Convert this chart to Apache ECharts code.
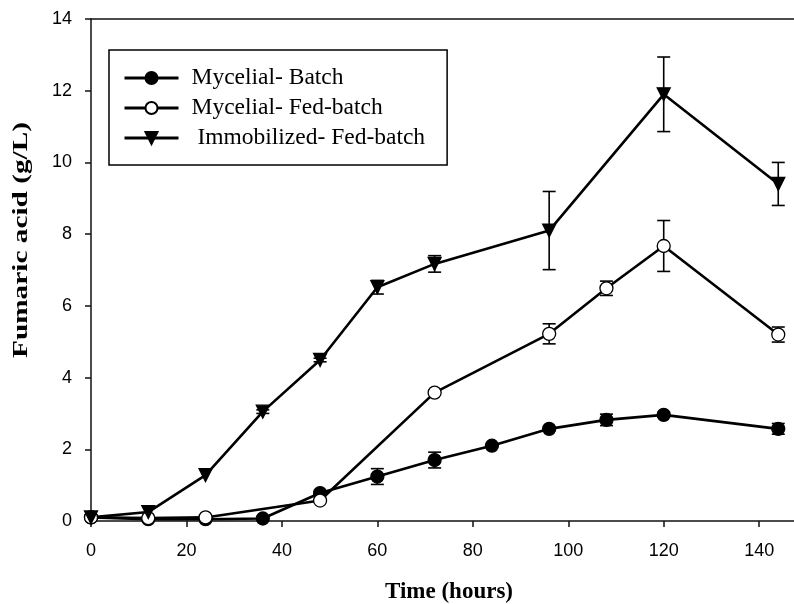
<!DOCTYPE html>
<html>
<head>
<meta charset="utf-8">
<script src="https://cdn.jsdelivr.net/npm/echarts@6/dist/echarts.min.js"></script>
<style>
  html, body { margin: 0; padding: 0; background: #fff; }
  #chart { width: 794px; height: 604px; }
</style>
</head>
<body>
<div id="chart"></div>
<script>
// Fumaric acid production over time for three cultivation modes
const batchHours = [0, 12, 24, 36, 48, 60, 72, 84, 96, 108, 120, 144];
const batchAcid  = [0.1, 0.05, 0.05, 0.07, 0.78, 1.24, 1.7, 2.1, 2.57, 2.82, 2.96, 2.57];
const batchSD    = [0, 0, 0, 0, 0.05, 0.22, 0.22, 0, 0.05, 0.16, 0.07, 0.15];

const fedHours = [0, 12, 24, 48, 72, 96, 108, 120, 144];
const fedAcid  = [0.1, 0.08, 0.1, 0.57, 3.58, 5.22, 6.49, 7.67, 5.2];
const fedSD    = [0, 0, 0, 0, 0, 0.28, 0.2, 0.71, 0.21];

const immHours = [0, 12, 24, 36, 48, 60, 72, 96, 120, 144];
const immAcid  = [0.1, 0.25, 1.28, 3.05, 4.49, 6.52, 7.17, 8.1, 11.9, 9.4];
const immSD    = [0, 0, 0, 0.05, 0.05, 0.19, 0.23, 1.09, 1.04, 0.6];

const seriesNames = ['Mycelial- Batch', 'Mycelial- Fed-batch', ' Immobilized- Fed-batch'];
const xTitle = 'Time (hours)';
const yTitle = 'Fumaric acid (g/L)';

const SERIF = '"Liberation Serif", "Times New Roman", serif';
const SANS = '"Liberation Sans", Arial, sans-serif';

function pairs(xs, ys) {
  return xs.map((x, i) => [x, ys[i]]);
}

function errorData(xs, ys, es) {
  const out = [];
  xs.forEach((x, i) => {
    if (es[i]) out.push([x, ys[i] - es[i], ys[i] + es[i]]);
  });
  return out;
}

function renderErrorBar(params, api) {
  const x = api.value(0);
  const lo = api.coord([x, api.value(1)]);
  const hi = api.coord([x, api.value(2)]);
  const hw = 6.5;
  const style = { stroke: '#000', lineWidth: 1.6 };
  return {
    type: 'group',
    children: [
      { type: 'line', shape: { x1: lo[0], y1: lo[1], x2: hi[0], y2: hi[1] }, style },
      { type: 'line', shape: { x1: hi[0] - hw, y1: hi[1], x2: hi[0] + hw, y2: hi[1] }, style },
      { type: 'line', shape: { x1: lo[0] - hw, y1: lo[1], x2: lo[0] + hw, y2: lo[1] }, style }
    ]
  };
}

function errorSeries(xs, ys, es) {
  return {
    type: 'custom',
    renderItem: renderErrorBar,
    data: errorData(xs, ys, es),
    encode: { x: 0, y: [1, 2] },
    z: 1,
    silent: true
  };
}

function lineSeries(name, data, symbol, fill, rotate) {
  return {
    name,
    type: 'line',
    data,
    symbol,
    symbolSize: 13,
    symbolRotate: rotate || 0,
    showAllSymbol: true,
    z: 3,
    lineStyle: { color: '#000', width: 2.6 },
    itemStyle: { color: fill, borderColor: '#000', borderWidth: 1.3 },
    emphasis: { disabled: true },
    animation: false
  };
}

// stretch factor for the vertical axis title
const measureCtx = document.createElement('canvas').getContext('2d');
measureCtx.font = 'bold 21px ' + SERIF;
const yTitleScale = 236 / measureCtx.measureText(yTitle).width;

const axisLineStyle = { color: '#111', width: 1.5 };

const chart = echarts.init(document.getElementById('chart'), null, { renderer: 'canvas' });

chart.setOption({
  animation: false,
  backgroundColor: '#fff',
  grid: { left: 91, right: 0, top: 19, bottom: 83 },
  xAxis: [
    {
      type: 'value',
      min: 0, max: 147.3, interval: 20,
      axisLine: { show: true, lineStyle: axisLineStyle },
      axisTick: { show: true, inside: false, length: 6, lineStyle: axisLineStyle },
      axisLabel: { margin: 21, fontFamily: SANS, fontSize: 18, color: '#000', showMaxLabel: false },
      splitLine: { show: false }
    },
    {
      // plain frame line along the top of the plot
      type: 'value', position: 'top',
      min: 0, max: 147.3,
      axisLine: { show: true, lineStyle: axisLineStyle },
      axisTick: { show: false },
      axisLabel: { show: false },
      splitLine: { show: false }
    }
  ],
  yAxis: {
    type: 'value',
    min: 0, max: 14, interval: 2,
    axisLine: { show: true, lineStyle: axisLineStyle },
    axisTick: { show: true, inside: false, length: 6, lineStyle: axisLineStyle },
    axisLabel: { margin: 19, fontFamily: SANS, fontSize: 18, color: '#000' },
    splitLine: { show: false }
  },
  legend: {
    data: seriesNames,
    orient: 'vertical',
    left: 109, top: 50,
    padding: [16, 22, 15, 14],
    itemGap: 6,
    itemWidth: 54,
    itemHeight: 15,
    borderColor: '#000',
    borderWidth: 1.5,
    backgroundColor: '#fff',
    selectedMode: false,
    lineStyle: { width: 3 },
    textStyle: { fontFamily: SERIF, fontSize: 23.5, color: '#000', padding: [0, 0, 0, 8] }
  },
  graphic: [
    {
      type: 'text', x: 449, y: 592,
      style: {
        text: xTitle, font: 'bold 23px ' + SERIF, fill: '#000',
        textAlign: 'center', textVerticalAlign: 'middle'
      }
    },
    {
      type: 'text', x: 22, y: 240, rotation: Math.PI / 2, scaleX: yTitleScale,
      style: {
        text: yTitle, font: 'bold 21px ' + SERIF, fill: '#000',
        textAlign: 'center', textVerticalAlign: 'middle'
      }
    }
  ],
  series: [
    errorSeries(batchHours, batchAcid, batchSD),
    errorSeries(fedHours, fedAcid, fedSD),
    errorSeries(immHours, immAcid, immSD),
    lineSeries(seriesNames[0], pairs(batchHours, batchAcid), 'circle', '#000'),
    lineSeries(seriesNames[1], pairs(fedHours, fedAcid), 'circle', '#fff'),
    lineSeries(seriesNames[2], pairs(immHours, immAcid), 'triangle', '#000', 180)
  ]
});
</script>
</body>
</html>
